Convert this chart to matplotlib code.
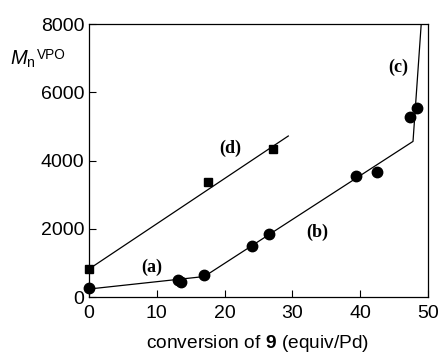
import matplotlib
matplotlib.use('Agg')
import matplotlib.pyplot as plt

plt.rcParams['font.family'] = ['Liberation Sans', 'DejaVu Sans']
plt.rcParams['mathtext.fontset'] = 'custom'
plt.rcParams['mathtext.it'] = 'Liberation Sans:italic'
plt.rcParams['mathtext.rm'] = 'Liberation Sans'
plt.rcParams['mathtext.bf'] = 'Liberation Sans:bold'

# circles (series a-b-c)
circ_x = [0, 13.1, 13.5, 16.9, 24.0, 26.5, 39.4, 42.5, 47.4, 48.4]
circ_y = [260, 500, 440, 645, 1495, 1846, 3546, 3663, 5275, 5538]
# squares (series d)
sq_x = [0, 17.6, 27.1]
sq_y = [820, 3370, 4337]

# fitted lines
fit_abc_x = [0, 17.0, 47.8, 49.0]
fit_abc_y = [234, 600, 4560, 7970]
fit_d_x = [0, 29.4]
fit_d_y = [820, 4718]

labels = ['(a)', '(b)', '(c)', '(d)']
label_x = [9.3, 33.7, 45.6, 20.9]
label_y = [880, 1900, 6740, 4365]

fig = plt.figure(figsize=(4.38, 3.53), dpi=100)
ax = fig.add_axes([0.2032, 0.1586, 0.7738, 0.7734])

ax.plot(fit_abc_x, fit_abc_y, color='black', lw=0.9)
ax.plot(fit_d_x, fit_d_y, color='black', lw=0.9)
ax.plot(circ_x, circ_y, 'o', color='black', ms=7.5, ls='none', clip_on=False)
ax.plot(sq_x, sq_y, 's', color='black', ms=5.8, ls='none', clip_on=False)

for t, x, y in zip(labels, label_x, label_y):
    ax.text(x, y, t, ha='center', va='center', fontsize=13, fontweight='bold',
            family='Liberation Serif')

ax.set_xlim(0, 50)
ax.set_ylim(0, 8000)
ax.set_xticks([0, 10, 20, 30, 40, 50])
ax.set_yticks([0, 2000, 4000, 6000, 8000])
ax.tick_params(direction='in', labelsize=14, length=5, width=0.8, top=False, right=False)
ax.tick_params(axis='x', pad=6)
for s in ax.spines.values():
    s.set_linewidth(0.9)

fig.text(0.023, 0.816, r'$M_\mathrm{n}$', fontsize=14.5, ha='left', va='baseline')
fig.text(0.085, 0.832, 'VPO', fontsize=9.8, ha='left', va='baseline')
fig.text(0.589, 0.028, r'conversion of $\mathbf{9}$ (equiv/Pd)', fontsize=13.8,
         ha='center', va='center')

fig.savefig('out.png', dpi=100)
